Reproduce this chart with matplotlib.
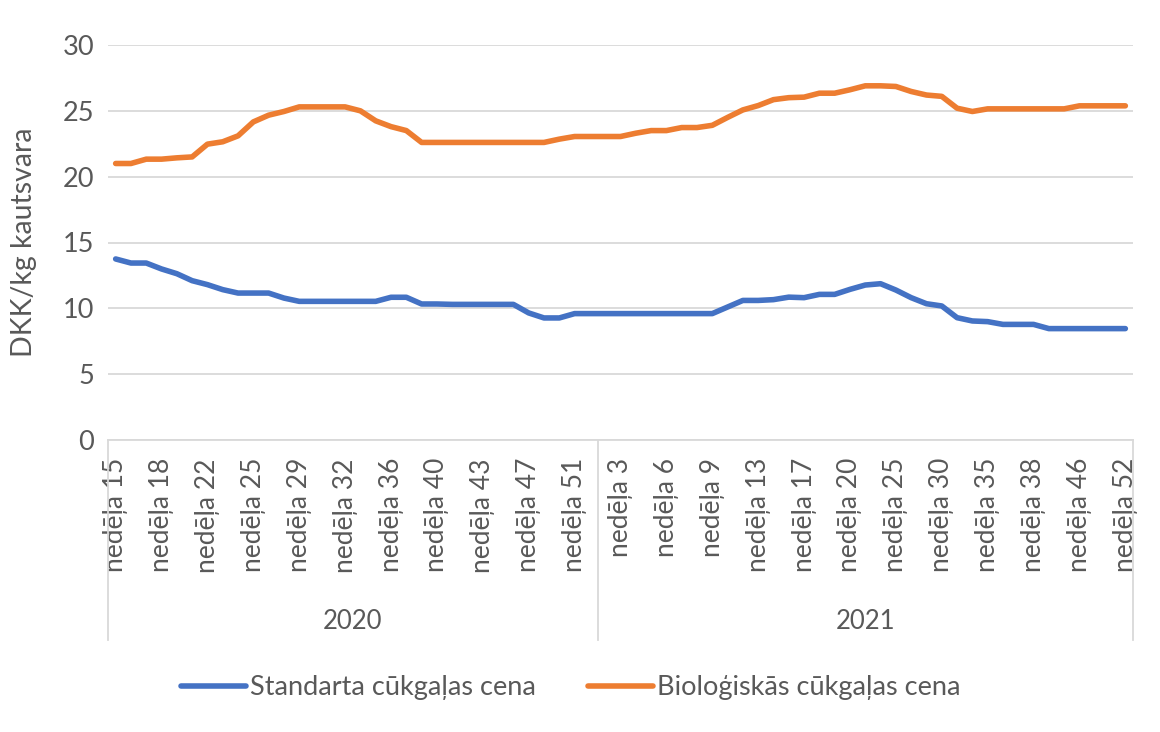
import matplotlib
matplotlib.use("Agg")
import matplotlib.pyplot as plt
from matplotlib.lines import Line2D

plt.rcParams['font.family'] = ['Lato', 'DejaVu Sans']

# weeks shown on the category axis (2020 then 2021)
weeks_2020 = [15, 16, 17, 18, 20, 21, 22, 23, 24, 25, 27, 28, 29, 30, 31, 32,
              34, 35, 36, 38, 39, 40, 41, 42, 43, 45, 46, 47, 49, 50, 51, 52]
weeks_2021 = [2, 3, 4, 5, 6, 7, 8, 9, 11, 12, 13, 15, 16, 17, 18, 19, 20, 22,
              23, 25, 27, 28, 30, 32, 33, 35, 36, 37, 38, 41, 44, 46, 48, 50, 52]
years = ['2020', '2021']

# DKK/kg kautsvara
standard_price = [13.75, 13.44, 13.44, 12.99, 12.63, 12.10, 11.80, 11.42, 11.16, 11.16,
                  11.16, 10.78, 10.53, 10.53, 10.53, 10.53, 10.53, 10.53, 10.84, 10.84,
                  10.33, 10.33, 10.30, 10.30, 10.30, 10.30, 10.30, 9.65, 9.27, 9.27,
                  9.60, 9.60, 9.60, 9.60, 9.60, 9.60, 9.60, 9.60, 9.60, 9.60,
                  10.10, 10.60, 10.60, 10.66, 10.85, 10.81, 11.06, 11.06, 11.44, 11.77,
                  11.87, 11.39, 10.81, 10.35, 10.18, 9.29, 9.04, 8.99, 8.78, 8.78,
                  8.78, 8.46, 8.46, 8.46, 8.46, 8.46, 8.46]
organic_price = [21.00, 21.00, 21.33, 21.33, 21.43, 21.50, 22.47, 22.65, 23.10, 24.16,
                 24.67, 24.95, 25.30, 25.30, 25.30, 25.30, 25.00, 24.24, 23.80, 23.50,
                 22.60, 22.60, 22.60, 22.60, 22.60, 22.60, 22.60, 22.60, 22.60, 22.85,
                 23.05, 23.05, 23.05, 23.05, 23.30, 23.50, 23.50, 23.73, 23.73, 23.90,
                 24.50, 25.07, 25.40, 25.85, 26.00, 26.04, 26.34, 26.34, 26.60, 26.90,
                 26.90, 26.85, 26.47, 26.20, 26.10, 25.20, 24.95, 25.15, 25.15, 25.15,
                 25.15, 25.15, 25.15, 25.38, 25.38, 25.38, 25.38]

blue = '#4472C4'
orange = '#ED7D31'
grey_txt = '#595959'
grid_col = '#D9D9D9'

n20 = len(weeks_2020)
n_all = n20 + len(weeks_2021)
x = list(range(n_all))
labels = ['nedēļa %d' % w for w in weeks_2020 + weeks_2021]

fig = plt.figure(figsize=(11.6, 7.32), dpi=100)
ax = fig.add_axes([108 / 1160, 1 - 440 / 732, 1025 / 1160, 395 / 732])

ax.plot(x, standard_price, color=blue, lw=4, solid_capstyle='round', solid_joinstyle='round')
ax.plot(x, organic_price, color=orange, lw=4, solid_capstyle='round', solid_joinstyle='round')

ax.set_xlim(-0.5, n_all - 0.5)
ax.set_ylim(0, 30)
ax.set_yticks(range(0, 31, 5))
ax.yaxis.grid(True, color=grid_col, lw=1.3)
ax.set_axisbelow(True)
for s in ['top', 'right', 'left']:
    ax.spines[s].set_visible(False)
ax.spines['bottom'].set_color(grid_col)
ax.spines['bottom'].set_linewidth(1.3)
ax.tick_params(axis='y', length=0, pad=10, labelsize=19.5, labelcolor=grey_txt)

# every third category gets a label
tick_pos = x[::3]
ax.set_xticks(tick_pos)
ax.set_xticklabels([labels[i] for i in tick_pos], rotation=90, va='top', ha='center')
ax.tick_params(axis='x', length=0, pad=13, labelsize=19, labelcolor=grey_txt)

ax.set_ylabel('DKK/kg kautsvara', fontsize=20.5, color=grey_txt)
ax.yaxis.set_label_coords(-0.069, 0.5)

# second level of the category axis: year blocks
tr = ax.get_xaxis_transform()
for xv in [-0.5, n20 - 0.5, n_all - 0.5]:
    ax.plot([xv, xv], [0, -0.506], transform=tr, color=grid_col, lw=1.3, clip_on=False)
ax.text((n20 - 1) / 2, -0.46, years[0], transform=tr, ha='center', va='center',
        fontsize=18.5, color=grey_txt)
ax.text((n20 + n_all - 1) / 2, -0.46, years[1], transform=tr, ha='center', va='center',
        fontsize=18.5, color=grey_txt)

handles = [Line2D([], [], color=blue, lw=4, solid_capstyle='round'),
           Line2D([], [], color=orange, lw=4, solid_capstyle='round')]
fig.legend(handles, ['Standarta cūkgaļas cena', 'Bioloģiskās cūkgaļas cena'],
           loc='center', bbox_to_anchor=(0.492, 1 - 688 / 732), ncol=2, frameon=False,
           fontsize=19.5, labelcolor=grey_txt, handlelength=2.4, handletextpad=0.15,
           columnspacing=1.9)

fig.savefig('out.png', dpi=100)
